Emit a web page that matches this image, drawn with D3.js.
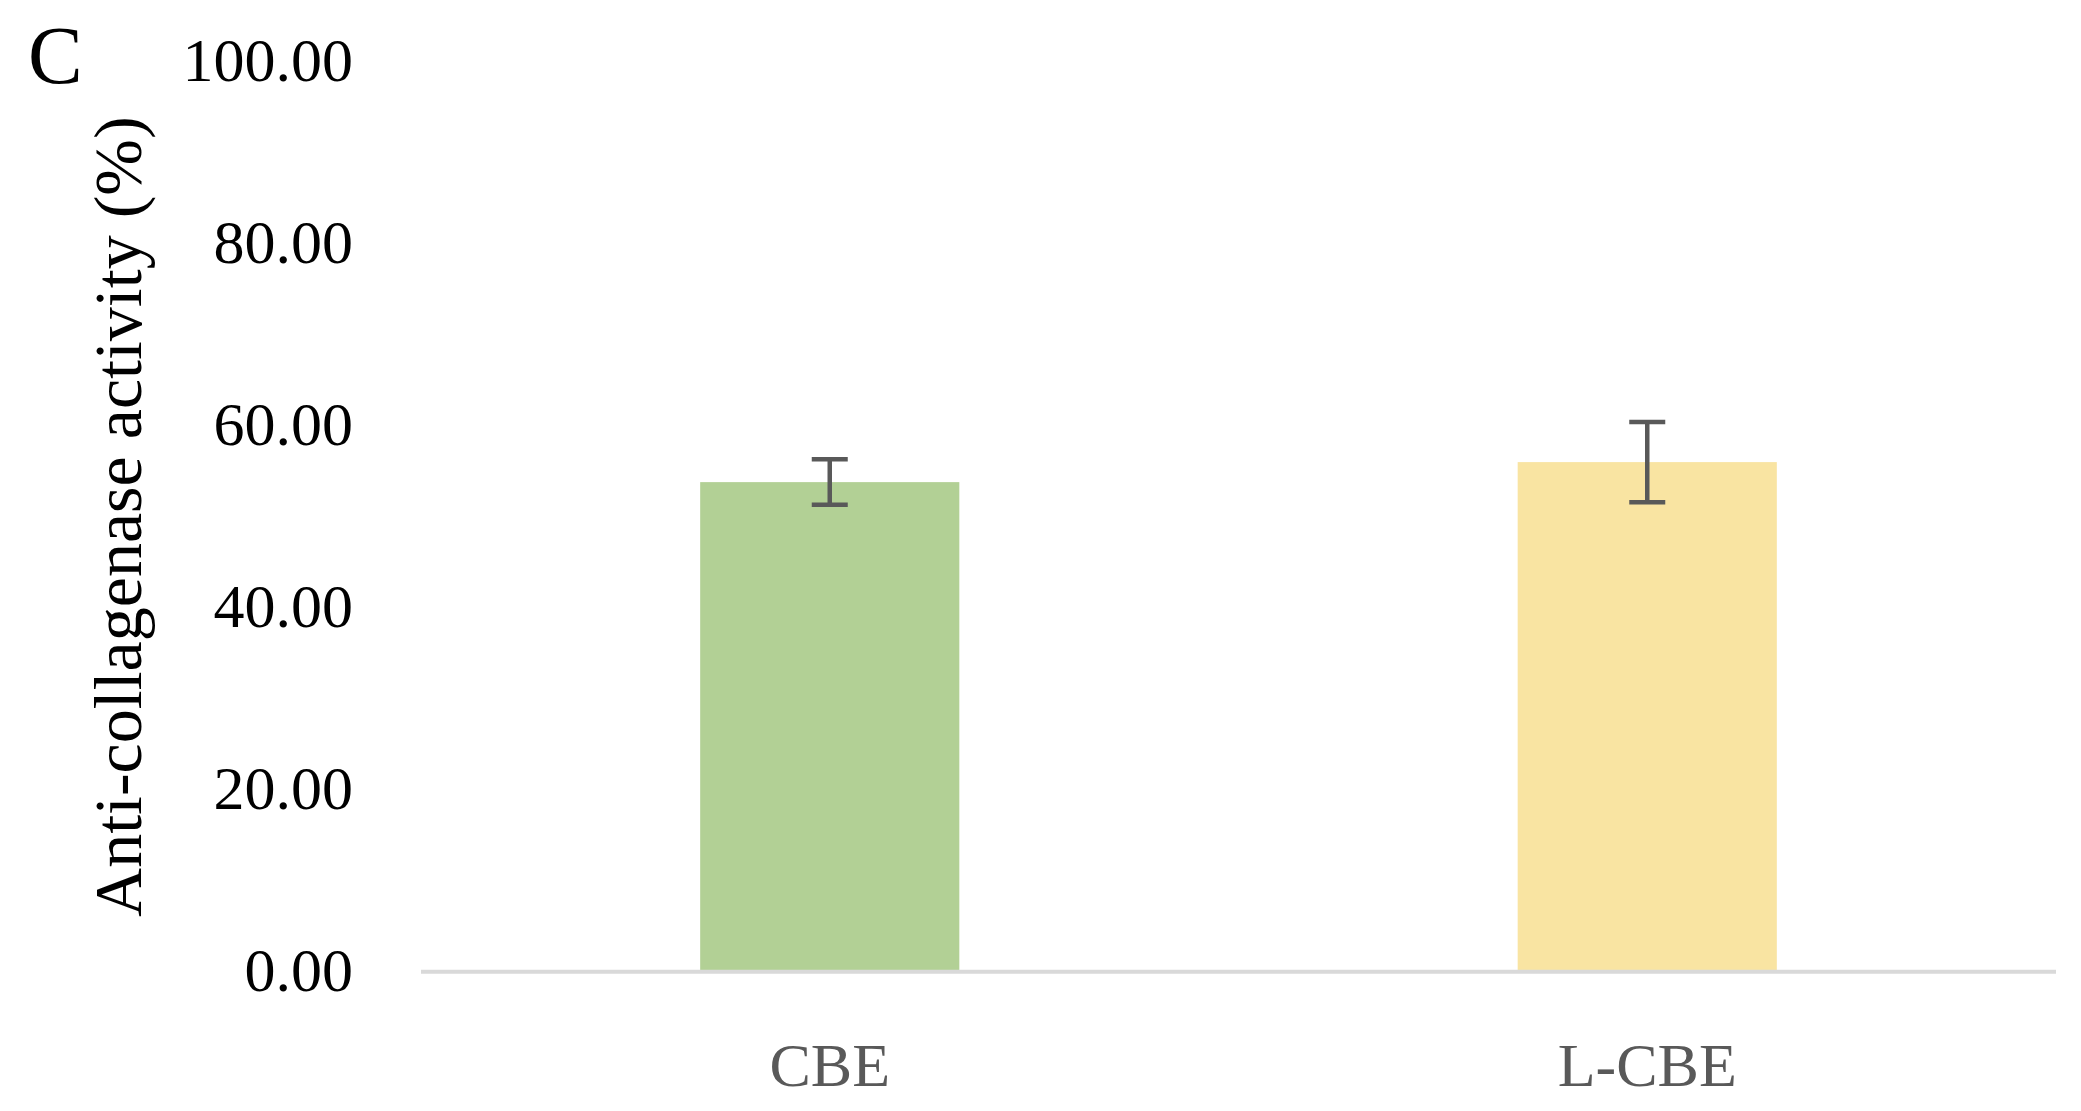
<!DOCTYPE html>
<html>
<head>
<meta charset="utf-8">
<script src="https://cdn.jsdelivr.net/npm/d3@7"></script>
<style>
  html, body { margin: 0; padding: 0; background: #ffffff; }
  svg { display: block; }
  text { font-family: "Liberation Serif", "DejaVu Serif", serif; }
</style>
</head>
<body>
<svg id="chart" width="2081" height="1111"></svg>
<script>
// Data
const categories = ["CBE", "L-CBE"];
const values = [53.8, 56.0];
const errors = [2.5, 4.4];
const barColors = ["#b2d095", "#f9e4a2"];
const yTicks = [0, 20, 40, 60, 80, 100];
const yLabel = "Anti-collagenase activity (%)";
const panelLabel = "C";

(function () {
const svg = d3.select("#chart");
const mLeft = 421, mRight = 2056, mTop = 61.7, mBottom = 971.7;

const x = d3.scaleBand()
  .domain(categories)
  .range([mLeft, mRight])
  .paddingInner(0.683)
  .paddingOuter(0.3415);

const y = d3.scaleLinear().domain([0, 100]).range([mBottom, mTop]);

// Bars
svg.selectAll("rect.bar")
  .data(categories)
  .join("rect")
  .attr("class", "bar")
  .attr("x", d => x(d))
  .attr("width", x.bandwidth())
  .attr("y", (d, i) => y(values[i]))
  .attr("height", (d, i) => y(0) - y(values[i]))
  .attr("fill", (d, i) => barColors[i]);

// Baseline axis
svg.append("line")
  .attr("x1", mLeft).attr("x2", mRight)
  .attr("y1", y(0)).attr("y2", y(0))
  .attr("stroke", "#d9d9d9").attr("stroke-width", 4);

// Error bars
const capHalf = 18;
const eb = svg.append("g").attr("stroke", "#595959").attr("stroke-width", 4.5).attr("fill", "none");
categories.forEach((c, i) => {
  const cx = x(c) + x.bandwidth() / 2;
  const y1 = y(values[i] + errors[i]);
  const y2 = y(values[i] - errors[i]);
  eb.append("line").attr("x1", cx).attr("x2", cx).attr("y1", y1).attr("y2", y2);
  eb.append("line").attr("x1", cx - capHalf).attr("x2", cx + capHalf).attr("y1", y1).attr("y2", y1);
  eb.append("line").attr("x1", cx - capHalf).attr("x2", cx + capHalf).attr("y1", y2).attr("y2", y2);
});

// Y axis (labels only)
const yAxis = d3.axisLeft(y)
  .tickValues(yTicks)
  .tickFormat(d3.format(".2f"))
  .tickSize(0)
  .tickPadding(68);
const gy = svg.append("g").attr("transform", `translate(${mLeft},0)`).call(yAxis);
gy.select(".domain").remove();
gy.selectAll("text")
  .attr("fill", "#000000")
  .style("font-family", "'Liberation Serif', serif")
  .style("font-size", "62px")
  .attr("dy", "0.30em");

// X axis labels
const xAxis = d3.axisBottom(x).tickSize(0).tickPadding(70);
const gx = svg.append("g").attr("transform", `translate(0,${y(0)})`).call(xAxis);
gx.select(".domain").remove();
gx.selectAll("text")
  .attr("fill", "#595959")
  .style("font-family", "'Liberation Serif', serif")
  .style("font-size", "62px")
  .attr("dy", "0.71em");

// Y axis title
svg.append("text")
  .attr("transform", `translate(141, ${(mTop + mBottom) / 2}) rotate(-90)`)
  .attr("text-anchor", "middle")
  .attr("fill", "#000000")
  .style("font-size", "68px")
  .text(yLabel);

// Panel label
svg.append("text")
  .attr("x", 28).attr("y", 83)
  .attr("fill", "#000000")
  .style("font-size", "82px")
  .text(panelLabel);
})();
</script>
</body>
</html>
